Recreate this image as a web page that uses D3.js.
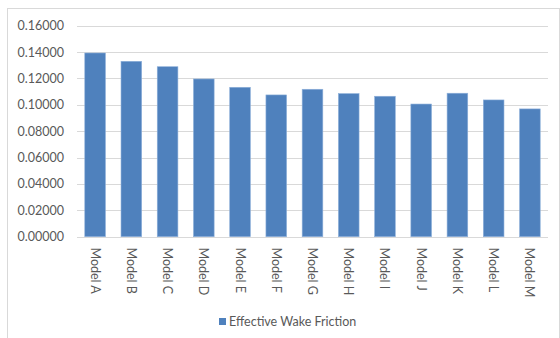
<!DOCTYPE html>
<html>
<head>
<meta charset="utf-8">
<script src="https://cdn.jsdelivr.net/npm/d3@7"></script>
<style>
  html, body { margin: 0; padding: 0; background: #fff; }
  svg { display: block; }
  text { font-family: Lato, "Open Sans", "Liberation Sans", sans-serif; fill: #595959; }
</style>
</head>
<body>
<svg id="chart" width="560" height="338"></svg>
<script>
// Effective wake friction per model
const categories = ["Model A", "Model B", "Model C", "Model D", "Model E", "Model F", "Model G",
                    "Model H", "Model I", "Model J", "Model K", "Model L", "Model M"];
const wakeFriction = [0.1393, 0.1330, 0.1289, 0.1196, 0.1133, 0.1075, 0.1118,
                      0.1085, 0.1065, 0.1006, 0.1088, 0.1037, 0.0969];
const yTicks = [0, 0.02, 0.04, 0.06, 0.08, 0.10, 0.12, 0.14, 0.16];
const seriesName = "Effective Wake Friction";

const svg = d3.select("#chart");
const W = 560, H = 338;
const plot = { left: 77, right: 548, top: 25.7, bottom: 236.7 };

// outer chart frame
svg.append("rect")
  .attr("x", 7.5).attr("y", 8.5)
  .attr("width", W - 8).attr("height", H)
  .attr("fill", "#fff").attr("stroke", "#d9d9d9").attr("stroke-width", 1);

const x = d3.scaleBand().domain(categories).range([plot.left, plot.right]).paddingInner(0.43).paddingOuter(0.215);
const y = d3.scaleLinear().domain([0, 0.16]).range([plot.bottom, plot.top]);

// horizontal gridlines
svg.append("g").selectAll("line").data(yTicks).join("line")
  .attr("x1", plot.left).attr("x2", plot.right)
  .attr("y1", d => Math.round(y(d)) + 0.5).attr("y2", d => Math.round(y(d)) + 0.5)
  .attr("stroke", "#d9d9d9").attr("stroke-width", 1);

// y axis labels
const yAxis = d3.axisLeft(y).tickValues(yTicks).tickFormat(d3.format(".5f")).tickSize(0).tickPadding(0);
const gy = svg.append("g").attr("transform", `translate(${plot.left - 13},0)`).call(yAxis);
gy.select(".domain").remove();
gy.selectAll("text").attr("font-size", 12.5).attr("fill", "#595959")
  .style("font-family", "Lato, 'Open Sans', sans-serif");

// bars
svg.append("g").selectAll("rect").data(categories).join("rect")
  .attr("x", d => x(d))
  .attr("width", x.bandwidth())
  .attr("y", (d, i) => y(wakeFriction[i]))
  .attr("height", (d, i) => y(0) - y(wakeFriction[i]))
  .attr("fill", "#4f81bd")
  .attr("stroke", "#8eb0da").attr("stroke-width", 0.6);

// category axis
const xAxis = d3.axisBottom(x).tickSize(0).tickPadding(0);
const gx = svg.append("g").attr("transform", `translate(0,${Math.round(y(0)) + 0.5})`).call(xAxis);
gx.select(".domain").attr("d", `M${plot.left},0H${plot.right}`).attr("stroke", "#d9d9d9");
gx.selectAll("text")
  .attr("font-size", 12.5).attr("fill", "#595959")
  .attr("text-anchor", "start")
  .attr("dy", null).attr("y", 0)
  .attr("transform", "translate(-4.5,10) rotate(90)")
  .style("font-family", "Lato, 'Open Sans', sans-serif");

// legend
const lg = svg.append("g").attr("transform", "translate(219,318)");
lg.append("rect").attr("width", 7).attr("height", 7).attr("fill", "#4f81bd");
lg.append("text").attr("x", 10).attr("y", 7.5).attr("font-size", 12.5).text(seriesName);
</script>
</body>
</html>
